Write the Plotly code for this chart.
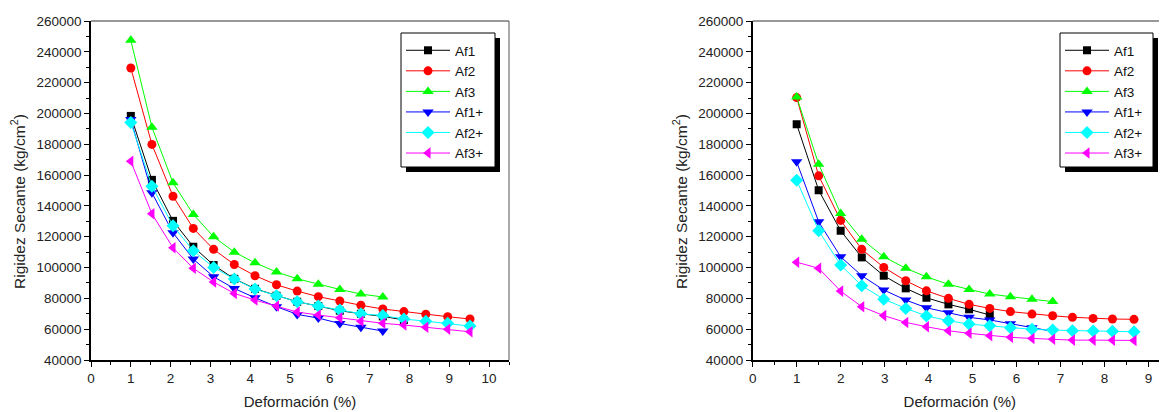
import plotly.graph_objects as go

# ---------------- data ----------------
names = ["Af1", "Af2", "Af3", "Af1+", "Af2+", "Af3+"]
colors = ["#000000", "#FF0000", "#00FF00", "#0000FF", "#00FFFF", "#FF00FF"]
symbols = ["square", "circle", "triangle-up", "triangle-down", "diamond", "triangle-left"]

x_left = [1.0, 1.53, 2.06, 2.57, 3.08, 3.60, 4.12, 4.66, 5.18, 5.71, 6.25, 6.78, 7.33, 7.86, 8.41, 8.96, 9.52]
left_af1 = [198400, 156900, 130300, 113500, 101600, 92700, 86200, 81700, 77800, 75000, 72000, 70000, 68300, 66000]
left_af2 = [229500, 179900, 146300, 125400, 111800, 102000, 94700, 88800, 84700, 81100, 78300, 75500, 73100, 71400, 69700, 68100, 66600]
left_af3 = [247500, 191100, 155000, 134500, 120000, 110000, 103100, 97100, 92700, 89100, 85800, 82800, 80900]
left_af1p = [196000, 148500, 122600, 105500, 94000, 86400, 80400, 74600, 69600, 67200, 63700, 61200, 58800]
left_af2p = [194100, 152800, 127100, 110900, 100100, 92500, 86000, 81700, 77800, 75000, 72400, 70000, 68800, 66600, 65200, 63800, 62000]
left_af3p = [169000, 134900, 112800, 99500, 90600, 83200, 78900, 75000, 71100, 69200, 67400, 65200, 63800, 62700, 61200, 59900, 58300]

x_right = [1.0, 1.5, 2.0, 2.48, 2.98, 3.48, 3.95, 4.45, 4.92, 5.39, 5.86, 6.35, 6.82, 7.27, 7.74, 8.18, 8.67]
right_af1 = [193000, 150200, 123900, 106600, 94700, 86500, 80400, 76100, 72900, 69200]
right_af2 = [210300, 159500, 130600, 111800, 100100, 91400, 84900, 80000, 76100, 73500, 71400, 69800, 68700, 67700, 67000, 66600, 66400]
right_af3 = [210700, 167100, 135100, 118300, 107000, 99500, 94000, 89100, 85800, 82800, 81100, 79400, 77900]
right_af1p = [168600, 129700, 107000, 94700, 85400, 78900, 73900, 70700, 67700, 66000, 63500, 61000, 58600]
right_af2p = [156700, 123900, 101600, 88200, 79500, 73500, 68600, 65500, 63300, 62200, 60900, 59900, 59400, 59000, 58800, 58600, 58300]
right_af3p = [103500, 99500, 84700, 74600, 68800, 64400, 61600, 59000, 57300, 55800, 54700, 54000, 53400, 52900, 52900, 52800, 52700]

y_ticks = [40000, 60000, 80000, 100000, 120000, 140000, 160000, 180000, 200000, 220000, 240000, 260000]
x_ticks_left = [0, 1, 2, 3, 4, 5, 6, 7, 8, 9, 10]
x_ticks_right = [0, 1, 2, 3, 4, 5, 6, 7, 8, 9]

x_title = "Deformación (%)"
y_title = "Rigidez Secante (kg/cm<sup>2</sup>)"

# ---------------- figure ----------------
# page body has an 8px margin -> figure is 8px smaller and everything shifted
OFF = 8
W, H = 1167 - OFF, 412 - OFF
MT, MB = 13, 52
FONT = "Arial, Liberation Sans, sans-serif"

def px_x(p):  # reference pixel -> paper x
    return (p - OFF) / W

def px_y(p):  # reference pixel -> paper y
    return (360 - p) / (H - MT - MB)

fig = go.Figure()

left_series = [left_af1, left_af2, left_af3, left_af1p, left_af2p, left_af3p]
right_series = [right_af1, right_af2, right_af3, right_af1p, right_af2p, right_af3p]
msizes = [8, 9, 10, 10, 10, 10]

for i, ys in enumerate(left_series):
    fig.add_trace(go.Scatter(
        x=x_left[:len(ys)], y=ys, name=names[i], mode="lines+markers",
        line=dict(color=colors[i], width=1),
        marker=dict(symbol=symbols[i], color=colors[i], size=msizes[i], line=dict(width=0)),
        xaxis="x", yaxis="y", legend="legend"))

for i, ys in enumerate(right_series):
    fig.add_trace(go.Scatter(
        x=x_right[:len(ys)], y=ys, name=names[i], mode="lines+markers",
        line=dict(color=colors[i], width=1),
        marker=dict(symbol=symbols[i], color=colors[i], size=msizes[i], line=dict(width=0)),
        xaxis="x2", yaxis="y2", legend="legend2"))

left_dom = [px_x(91), px_x(509)]
right_dom = [px_x(752.7), 1.0]

axis_common = dict(
    showline=True, linecolor="black", linewidth=1.5, ticks="outside",
    ticklen=5, tickwidth=1, tickcolor="black", showgrid=False, zeroline=False,
    automargin=False,
    tickfont=dict(family=FONT, size=13.5, color="#222"),
)

legend_common = dict(xanchor="left", yanchor="top", bgcolor="rgba(0,0,0,0)",
                     borderwidth=0, font=dict(family=FONT, size=13.5, color="#111"),
                     itemwidth=44, tracegroupgap=0)

fig.update_layout(
    width=W, height=H,
    margin=dict(l=0, r=0, t=MT, b=MB, autoexpand=False),
    paper_bgcolor="white", plot_bgcolor="white",
    font=dict(family=FONT, color="#222"),
    xaxis=dict(domain=left_dom, range=[0, 10.5], tickvals=x_ticks_left,
               minor=dict(dtick=0.5, ticks="outside", ticklen=3, tickcolor="black"),
               title=dict(text=x_title, font=dict(size=15), standoff=12),
               anchor="y", **axis_common),
    yaxis=dict(domain=[0, 1], range=[40000, 260000], tickvals=y_ticks, tickformat="d",
               minor=dict(dtick=10000, ticks="outside", ticklen=3, tickcolor="black"),
               anchor="x", **axis_common),
    xaxis2=dict(domain=right_dom, range=[0, 9.42], tickvals=x_ticks_right,
                minor=dict(dtick=0.5, ticks="outside", ticklen=3, tickcolor="black"),
                title=dict(text=x_title, font=dict(size=15), standoff=12),
                anchor="y2", **axis_common),
    yaxis2=dict(domain=[0, 1], range=[40000, 260000], tickvals=y_ticks, tickformat="d",
                minor=dict(dtick=10000, ticks="outside", ticklen=3, tickcolor="black"),
                anchor="x2", **axis_common),
    legend=dict(x=px_x(401), y=px_y(35), **legend_common),
    legend2=dict(x=px_x(1060), y=px_y(35), **legend_common),
    showlegend=True,
)

# y-axis titles as rotated annotations (centred slightly below plot middle, as in reference)
for cx in (18, 680):
    fig.add_annotation(text=y_title, textangle=-90, xref="paper", yref="paper",
                       x=px_x(cx), y=px_y(202), xanchor="center", yanchor="middle",
                       showarrow=False, font=dict(family=FONT, size=15.5, color="#222"))

shapes = []
shapes.append(dict(type="line", xref="paper", yref="paper", x0=left_dom[0], x1=left_dom[1], y0=1, y1=1,
                   line=dict(color="#333", width=1)))
shapes.append(dict(type="line", xref="paper", yref="paper", x0=left_dom[1], x1=left_dom[1], y0=0, y1=1,
                   line=dict(color="#555", width=1)))
shapes.append(dict(type="line", xref="paper", yref="paper", x0=right_dom[0], x1=right_dom[1], y0=1, y1=1,
                   line=dict(color="#333", width=1)))
# legend boxes with drop shadow
for (lx0, lx1) in [(401, 495), (1060, 1153)]:
    shapes.append(dict(type="rect", xref="paper", yref="paper",
                       x0=px_x(lx0 + 5), x1=px_x(lx1 + 5), y0=px_y(167 + 5), y1=px_y(33 + 5),
                       fillcolor="black", line=dict(width=0), layer="above"))
    shapes.append(dict(type="rect", xref="paper", yref="paper",
                       x0=px_x(lx0), x1=px_x(lx1), y0=px_y(167), y1=px_y(33),
                       fillcolor="white", line=dict(color="black", width=1), layer="above"))
fig.update_layout(shapes=shapes)

fig.write_html("out.html")
